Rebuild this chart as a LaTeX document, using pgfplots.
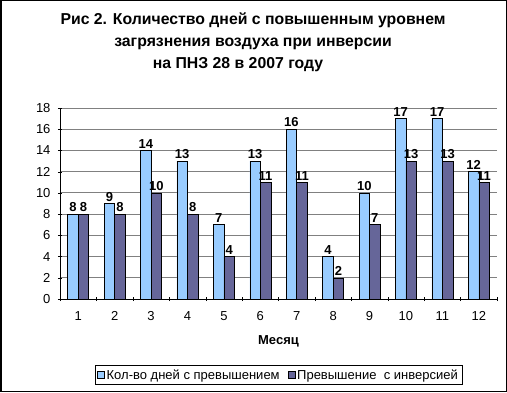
\documentclass[border=0pt]{standalone}
\usepackage{fontspec}
\setmainfont{Liberation Sans}
\usepackage{pgfplots}
\pgfplotsset{compat=1.18}
\definecolor{lb}{HTML}{99CCFF}
\definecolor{db}{HTML}{666699}
\begin{document}
\begin{tikzpicture}
\useasboundingbox (0,0) rectangle (507pt,392pt);
\fill[white] (0,0) rectangle (507pt,392pt);
\draw[line width=1.5pt] (0.75pt,0.75pt) rectangle (506.25pt,391.25pt);
\node[font=\bfseries\fontsize{15.8}{22}\selectfont, align=center, anchor=north, inner sep=0pt] at (253pt,379pt)
 {Рис 2. Количество дней с повышенным уровнем\\
  загрязнения воздуха при инверсии\hspace*{30pt}\\
  на ПНЗ 28 в 2007 году\hspace*{30pt}};
\begin{axis}[
  at={(60pt,93pt)}, anchor=south west, scale only axis,
  width=437pt, height=191pt,
  ybar=0pt, bar width=10.5pt,
  xmin=0.5, xmax=12.5, ymin=0, ymax=18,
  ytick={0,2,...,18},
  xtick={1,...,12},
  minor xtick={0.5,1.5,...,12.5},
  major x tick style={draw=none},
  tick align=outside, major tick length=4pt, minor tick length=4pt,
  axis x line=bottom, axis y line=left,
  axis line style={-, black},
  tick style={black},
  ymajorgrids, grid style={gray, line width=1pt},
  tick label style={font=\fontsize{13}{15}\selectfont},
  xticklabel style={yshift=-7pt},
  yticklabel style={xshift=-4pt},
  /pgf/number format/assume math mode=true,
  nodes near coords,
  nodes near coords style={font=\bfseries\fontsize{13}{15}\selectfont, inner sep=2pt},
  xlabel={Месяц},
  xlabel style={at={(axis description cs:0.5,0)}, anchor=center, yshift=-42pt, font=\bfseries\fontsize{13}{15}\selectfont},
  legend style={at={(axis description cs:0.5,0)}, anchor=center, yshift=-76pt,
    draw=black, font=\fontsize{13}{15}\selectfont, inner sep=2pt,
    /tikz/every even column/.append style={column sep=6pt}},
  legend columns=2,
  legend image code/.code={\draw[#1] (0pt,-3.5pt) rectangle (7pt,3.5pt);},
]
\addplot[fill=lb, draw=black, line width=0.5pt] coordinates {(1,8) (2,9) (3,14) (4,13) (5,7) (6,13) (7,16) (8,4) (9,10) (10,17) (11,17) (12,12)};
\addplot[fill=db, draw=black, line width=0.5pt] coordinates {(1,8) (2,8) (3,10) (4,8) (5,4) (6,11) (7,11) (8,2) (9,7) (10,13) (11,13) (12,11)};
\legend{Кол-во дней с превышением, Превышение\ \ с инверсией}
\end{axis}
\end{tikzpicture}
\end{document}
